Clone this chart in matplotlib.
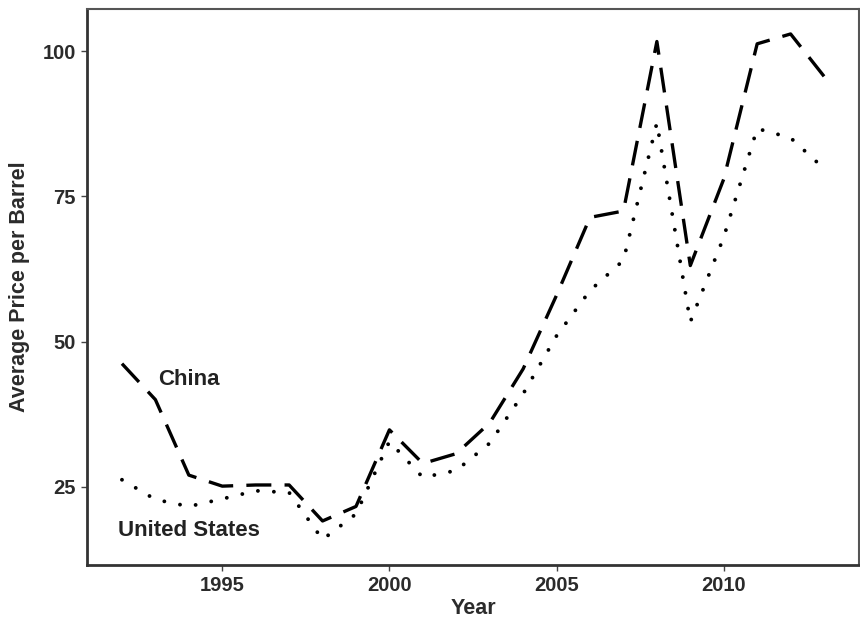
import numpy as np
import matplotlib
matplotlib.use('Agg')
import matplotlib.pyplot as plt

years = list(range(1992, 2014))
china = [46.2, 40.0, 27.0, 25.1, 25.3, 25.3, 19.1, 21.6, 34.8, 29.0, 30.7,
         36.0, 45.3, 58.0, 71.4, 72.5, 101.7, 63.1, 78.0, 101.3, 103.0, 95.7]
usa = [26.2, 22.8, 21.6, 22.9, 24.3, 24.0, 15.9, 20.3, 32.8, 26.6, 27.8,
       32.5, 41.0, 51.0, 58.8, 64.0, 87.7, 53.4, 68.0, 86.7, 85.1, 79.8]

xticks = [1995, 2000, 2005, 2010]
yticks = [25, 50, 75, 100]

plt.rcParams['font.family'] = ['Liberation Sans', 'DejaVu Sans']
plt.rcParams['lines.scale_dashes'] = False

fig = plt.figure(figsize=(8.6, 6.2), dpi=100)
ax = fig.add_axes([0.101, 0.089, 0.898, 0.897])

ax.plot(years, china, color='black', lw=2.4, dashes=(18, 9.5),
        dash_capstyle='butt')
ax.plot(years, usa, color='black', lw=2.8, dashes=(0.01, 11.5),
        dash_capstyle='round')

ax.text(1994, 43.5, 'China', ha='center', va='center', fontsize=16,
        fontweight='bold', color='#222222')
ax.text(1994, 17.5, 'United States', ha='center', va='center', fontsize=16,
        fontweight='bold', color='#222222')

# ggplot-like default expansion
x0, x1 = min(years), max(years)
lo = min(min(china), min(usa))
hi = max(max(china), max(usa))
ax.set_xlim(x0 - 0.05 * (x1 - x0), x1 + 0.05 * (x1 - x0))
ax.set_ylim(lo - 0.05 * (hi - lo), hi + 0.05 * (hi - lo))

ax.set_xticks(xticks)
ax.set_yticks(yticks)
ax.tick_params(length=4, width=1, color='#444444', labelsize=14.5,
               labelcolor='#2b2b2b', pad=4)
for lab in ax.get_xticklabels() + ax.get_yticklabels():
    lab.set_fontweight('bold')

ax.set_xlabel('Year', fontsize=15.5, fontweight='bold', color='#2b2b2b',
              labelpad=2)
ax.set_ylabel('Average Price per Barrel', fontsize=15.5, fontweight='bold',
              color='#2b2b2b', labelpad=9)

for side in ['left', 'bottom']:
    ax.spines[side].set_linewidth(2.0)
    ax.spines[side].set_color('#333333')
for side in ['top', 'right']:
    ax.spines[side].set_linewidth(1.5)
    ax.spines[side].set_color('#555555')

fig.savefig('out.png', dpi=100)
